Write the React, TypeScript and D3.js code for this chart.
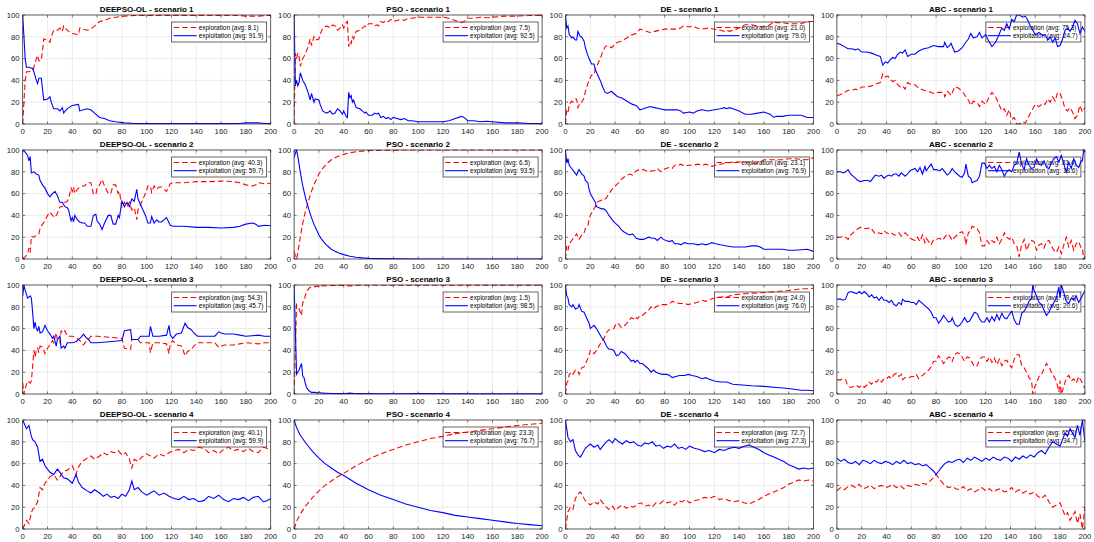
import React from "react";
import * as d3 from "d3";

// ---------- axis ticks ----------
const iterTicks = [0, 20, 40, 60, 80, 100, 120, 140, 160, 180, 200];
const pctTicks = [0, 20, 40, 60, 80, 100];

// ---------- titles / legend values ----------
const algorithms = ["DEEPSO-OL", "PSO", "DE", "ABC"];
const scenarios = ["scenario 1", "scenario 2", "scenario 3", "scenario 4"];
const exploreAvgs = [
  [8.1, 7.5, 21.0, 75.3],
  [40.3, 6.5, 23.1, 81.4],
  [54.3, 1.5, 24.0, 79.4],
  [40.1, 23.3, 72.7, 65.3],
];
const exploitAvgs = [
  [91.9, 92.5, 79.0, 24.7],
  [59.7, 93.5, 76.9, 18.6],
  [45.7, 98.5, 76.0, 20.6],
  [59.9, 76.7, 27.3, 34.7],
];

// ---------- row 1 ----------
const deepso1X = [0,1,2,3,5,8,9,11,12,13,15,17,20,22,23,25,28,30,32,33,35,37,40,45,46,49,52,55,58,62,66,70,75,82,90,100,120,140,160,175,180,185,190,195,200];
const deepso1Exploit = [100,80,60,52,52,51,48,40,37,42,42,22,23,25,20,14,14,12,15,10,13,15,17,18,12,13,14,13,10,6,5,3,2,1,0.5,0.3,0.3,0.3,0.3,0.5,1,1,1,0.5,0.5];
const deepso1Explore = [0,20,40,48,48,49,52,60,63,58,58,78,77,75,80,86,86,88,85,90,87,85,83,82,88,87,86,87,90,94,95,97,98,99,99.5,99.7,99.7,99.7,99.7,99.5,99,99,99,99.5,99.5];

const pso1X = [0,1,2,3,4,5,7,9,11,13,14,16,17,20,21,23,26,28,29,31,33,35,37,39,40,42,43,44,45,46,47,48,50,53,55,57,58,60,63,65,67,68,70,72,74,76,78,80,83,86,89,92,95,100,110,120,125,130,135,137,140,145,150,155,160,170,180,190,200];
const pso1Exploit = [100,35,40,35,38,47,40,36,30,22,28,20,23,22,18,12,10,11,12,9,10,14,12,9,12,7,6,29,24,26,20,22,15,14,12,10,11,8,8,10,9,10,6,7,5,6,4,6,5,4,5,3,3,2,2,2,3,5,7,6,3,3,2,2.5,2,1,1,0.5,0.3];
const pso1Explore = [0,65,60,65,62,53,60,64,70,78,72,80,77,78,82,88,90,89,88,91,90,86,88,91,88,93,94,71,76,74,80,78,85,86,88,90,89,92,92,90,91,90,94,93,95,94,96,94,95,96,95,97,97,98,98,98,97,95,93,94,97,97,98,97.5,98,99,99,99.5,99.7];

const de1X = [0,1,2,3,5,6,8,9,10,12,13,15,16,18,19,21,23,24,26,28,30,32,34,37,39,42,45,48,51,54,57,60,63,68,72,76,80,85,90,93,95,100,103,106,110,115,120,125,128,130,132,135,140,143,145,150,155,160,165,168,170,175,180,185,190,195,200];
const de1Exploit = [100,88,90,82,79,80,77,77,85,80,80,76,70,63,60,55,55,50,45,40,34,29,28,30,28,25,24,22,20,18,17,13,14,16,15,14,13,13,13,12,10,11,10,12,13,12,13,14,15,14,15,14,12,10,9,9,10,11,9,6,7,7,8,8,8,6,6];
const de1Explore = [0,12,10,18,21,20,23,23,15,20,20,24,30,37,40,45,45,50,55,60,66,71,72,70,72,75,76,78,80,82,83,87,86,84,85,86,87,87,87,88,90,89,90,88,87,88,87,86,85,86,85,86,88,90,91,91,90,89,91,94,93,93,92,92,92,94,94];

const abc1X = [0,3,6,9,12,15,17,20,24,28,32,35,37,39,41,43,45,47,49,51,53,55,57,60,63,66,70,74,78,82,86,87,89,91,92,95,98,101,104,106,108,110,113,115,117,120,122,125,128,130,133,135,137,139,141,143,145,147,150,152,154,156,158,160,163,166,168,170,172,174,176,178,180,182,184,186,188,190,192,194,196,198,200];
const abc1Exploit = [74,73,71,69,69,68,69,66,66,65,63,62,54,57,56,59,61,60,64,66,65,68,62,64,64,67,69,70,72,71,71,75,70,72,74,66,67,70,75,78,83,79,80,84,79,82,77,71,75,80,88,86,92,87,96,94,100,100,98,99,95,90,86,82,84,81,82,77,80,75,79,71,72,78,86,88,85,89,95,92,83,89,85];
const abc1Explore = [26,27,29,31,31,32,31,34,34,35,37,38,46,43,44,41,39,40,36,34,35,32,38,36,36,33,31,30,28,29,29,25,30,28,26,34,33,30,25,22,17,21,20,16,21,18,23,29,25,20,12,14,8,13,4,6,0,0,2,1,5,10,14,18,16,19,18,23,20,25,21,29,28,22,14,12,15,11,5,8,17,11,15];

// ---------- row 2 ----------
const deepso2X = [0,2,4,5,6,7,9,11,13,14,16,18,20,22,24,26,28,30,32,34,36,37,39,40,41,42,44,46,48,50,52,55,57,59,60,62,64,66,69,71,73,75,77,78,80,82,84,86,88,90,92,93,95,97,99,101,103,104,106,108,110,112,115,116,119,121,125,130,140,150,160,170,175,180,185,188,190,195,200];
const deepso2Exploit = [100,98,95,90,94,79,80,78,77,72,68,65,60,57,60,62,58,52,52,48,47,45,35,38,34,40,36,34,33,33,30,30,40,41,35,32,27,33,40,40,32,32,40,38,53,48,52,48,55,53,64,55,50,45,40,33,33,39,33,36,34,34,37,38,31,30,30,30,29,29,28.5,29,30,32,33,32,30,31,30.5];
const deepso2Explore = [0,2,5,10,6,21,20,22,23,28,32,35,40,43,40,38,42,48,48,52,53,55,65,62,66,60,64,66,67,67,70,70,60,59,65,68,73,67,60,60,68,68,60,62,47,52,48,52,45,47,36,45,50,55,60,67,67,61,67,64,66,66,63,62,69,70,70,70,71,71,71.5,71,70,68,67,68,70,69,69.5];

const pso2X = [0,1,2,3,4,5,6,7,8,9,10,11,12,14,16,18,20,22,24,26,28,30,33,36,40,45,50,55,60,70,80,100,130,160,200];
const pso2Exploit = [93,97,100,94,87,80,73,67,62,57,53,49,45,38,32,27,22,18.5,15.5,13,11,9,7,5.5,4,2.5,1.6,1,0.6,0.3,0.1,0,0,0,0];
const pso2Explore = [7,3,0,6,13,20,27,33,38,43,47,51,55,62,68,73,78,81.5,84.5,87,89,91,93,94.5,96,97.5,98.4,99,99.4,99.7,99.9,100,100,100,100];

const de2X = [0,1,2,3,5,7,9,10,11,13,15,16,18,19,20,22,24,25,27,29,31,33,35,37,39,41,43,45,47,50,52,54,55,57,60,63,67,70,72,74,77,79,81,84,86,88,91,93,96,99,103,107,110,113,116,118,121,125,130,135,140,145,150,154,157,160,165,170,175,180,185,190,195,200];
const de2Exploit = [100,88,92,86,83,80,77,80,82,78,76,72,70,64,60,56,52,48,47,46,46,44,40,37,34,32,30,27,25,23,22,23,22,19,18,18,20,19,19,17,20,18,17,16,17,14,14,13,15,14,14,13,14,13,14,15,14,13,12,11,11,11,12,12,11,9,9,9,9,8,8,8.5,9,7];
const de2Explore = [0,12,8,14,17,20,23,20,18,22,24,28,30,36,40,44,48,52,53,54,54,56,60,63,66,68,70,73,75,77,78,77,78,81,82,82,80,81,81,83,80,82,83,84,83,86,86,87,85,86,86,87,86,87,86,85,86,87,88,89,89,89,88,88,89,91,91,91,91,92,92,91.5,91,93];

const abc2X = [0,3,5,7,9,11,13,15,17,19,22,25,27,29,31,34,36,38,40,42,44,46,48,50,52,55,57,59,61,63,65,67,69,71,72,74,76,78,80,83,85,87,89,91,93,95,97,99,101,103,104,106,108,109,111,113,115,117,119,121,123,125,127,129,131,133,135,137,139,141,143,145,147,149,151,153,155,157,159,161,163,165,167,169,171,173,175,177,179,181,183,185,187,189,191,193,195,197,198,199,200];
const abc2Exploit = [80,80,79,80,82,78,76,74,72,71,72,72,71,74,77,76,77,74,76,77,76,78,78,76,79,76,78,81,82,83,80,84,78,85,81,84,87,82,82,81,83,80,77,79,83,80,78,76,75,79,87,76,74,70,71,72,76,88,88,83,86,83,85,80,86,82,76,80,82,80,86,88,98,87,82,92,86,83,84,92,87,86,90,84,83,88,92,94,89,95,87,80,89,83,92,86,84,90,90,100,98];
const abc2Explore = [20,20,21,20,18,22,24,26,28,29,28,28,29,26,23,24,23,26,24,23,24,22,22,24,21,24,22,19,18,17,20,16,22,15,19,16,13,18,18,19,17,20,23,21,17,20,22,24,25,21,13,24,26,30,29,28,24,12,12,17,14,17,15,20,14,18,24,20,18,20,14,12,2,13,18,8,14,17,16,8,13,14,10,16,17,12,8,6,11,5,13,20,11,17,8,14,16,10,10,0,2];

// ---------- row 3 ----------
const deepso3X = [0,1,2,4,6,7,8,9,10,11,12,13,14,16,18,20,22,24,25,27,28,30,31,33,34,36,40,43,47,49,51,53,55,60,70,80,82,87,88,93,95,102,103,105,110,116,118,119,121,124,128,131,133,136,138,141,150,155,158,160,163,170,175,180,185,190,195,200];
const deepso3Exploit = [90,100,95,88,90,88,75,60,66,60,58,62,56,57,63,58,55,51,53,44,50,53,42,44,42,47,47,48,52,55,52,50,47,47,48,49,58,59,50,50,53,53,62,53,53,54,63,54,51,55,56,65,61,59,56,53,53,53,57,56,55,55,54,53,53.5,54,53,53];
const deepso3Explore = [10,0,5,12,10,12,25,40,34,40,42,38,44,43,37,42,45,49,47,56,50,47,58,56,58,53,53,52,48,45,48,50,53,53,52,51,42,41,50,50,47,47,38,47,47,46,37,46,49,45,44,35,39,41,44,47,47,47,43,44,45,45,46,47,46.5,46,47,47];

const pso3X = [0,1,2,4,6,7,8,9,10,12,14,17,19,20,22,30,40,45,50,80,100,150,200];
const pso3Exploit = [100,60,18,22,28,16,15,10,6,3,1.5,1.5,0.8,2,0.8,0.5,0.3,0.8,0.3,0.2,0.3,0.1,0.1];
const pso3Explore = [0,40,82,78,72,84,85,90,94,97,98.5,98.5,99.2,98,99.2,99.5,99.7,99.2,99.7,99.8,99.7,99.9,99.9];

const de3X = [0,1,2,3,5,6,8,10,11,13,15,17,19,20,22,23,25,27,29,31,33,35,37,39,41,43,45,48,51,53,55,56,58,60,62,65,67,69,71,73,75,78,82,84,86,89,92,96,99,102,106,110,113,115,120,125,130,135,140,145,150,160,170,180,190,195,200];
const de3Exploit = [100,90,88,82,80,82,78,79,82,76,75,70,65,60,62,63,60,56,52,49,44,41,41,40,35,36,39,37,33,30,31,29,31,28,28,25,23,20,22,20,19,18,18,17,15,16,17,17,18,17,16,14,15,14,12,11,11,9,8.5,8,7.5,7,6,5,3.5,3.5,3];
const de3Explore = [0,10,12,18,20,18,22,21,18,24,25,30,35,40,38,37,40,44,48,51,56,59,59,60,65,64,61,63,67,70,69,71,69,72,72,75,77,80,78,80,81,82,82,83,85,84,83,83,82,83,84,86,85,86,88,89,89,91,91.5,92,92.5,93,94,95,96.5,96.5,97];

const abc3X = [0,3,5,7,9,11,14,16,18,20,22,24,26,28,30,32,34,36,38,40,42,44,46,48,50,52,53,55,58,60,62,64,66,68,70,72,74,76,78,80,82,84,86,88,90,92,93,95,97,99,101,103,105,107,109,111,113,115,117,119,121,123,125,127,129,131,133,135,137,139,141,143,145,147,149,151,153,155,157,158,159,161,163,165,167,169,171,173,175,177,179,180,181,183,185,187,189,191,193,195,197,200];
const abc3Exploit = [87,87,86,87,93,94,93,92,94,92,94,92,89,91,88,89,86,89,86,86,84,86,82,81,84,82,87,85,85,84,84,82,86,84,82,80,78,75,70,70,65,68,72,69,66,67,70,64,62,63,66,70,66,67,71,75,74,69,66,66,70,66,71,67,73,68,74,70,69,73,76,68,64,64,74,76,80,85,88,100,95,90,84,82,77,72,75,80,84,88,98,88,100,93,85,83,88,86,90,84,88,95];
const abc3Explore = [13,13,14,13,7,6,7,8,6,8,6,8,11,9,12,11,14,11,14,14,16,14,18,19,16,18,13,15,15,16,16,18,14,16,18,20,22,25,30,30,35,32,28,31,34,33,30,36,38,37,34,30,34,33,29,25,26,31,34,34,30,34,29,33,27,32,26,30,31,27,24,32,36,36,26,24,20,15,12,0,5,10,16,18,23,28,25,20,16,12,2,12,0,7,15,17,12,14,10,16,12,5];

// ---------- row 4 ----------
const deepso4X = [0,3,5,7,8,10,12,14,16,18,20,22,25,28,30,33,36,40,43,45,48,52,55,58,62,65,68,71,74,77,80,83,86,88,90,93,96,100,103,106,110,114,118,122,126,130,134,138,142,146,150,154,158,162,166,170,174,178,182,186,190,194,197,200];
const deepso4Exploit = [100,92,95,85,82,80,75,62,64,58,55,52,50,55,52,47,46,42,50,43,38,35,33,36,33,30,32,29,30,28,32,30,36,44,36,38,34,31,33,35,31,33,30,28,27,30,27,28,25,26,30,28,31,27,25,28,27,29,26,29,30,25,26,28];
const deepso4Explore = [0,8,5,15,18,20,25,38,36,42,45,48,50,45,48,53,54,58,50,57,62,65,67,64,67,70,68,71,70,72,68,70,64,56,64,62,66,69,67,65,69,67,70,72,73,70,73,72,75,74,70,72,69,73,75,72,73,71,74,71,70,75,74,72];

const pso4X = [0,2,5,10,15,20,25,30,35,40,50,60,70,80,90,100,110,120,130,140,150,160,170,180,190,200];
const pso4Exploit = [100,93,86,78,71,65,60,56,52,49,42,36,31,27,23,20,17,15,12.5,11,9.5,8,6.5,5,4,3];
const pso4Explore = [0,7,14,22,29,35,40,44,48,51,58,64,69,73,77,80,83,85,87.5,89,90.5,92,93.5,95,96,97];

const de4X = [0,2,4,6,8,10,12,14,16,18,20,23,26,28,30,33,35,38,40,43,46,49,52,55,58,61,64,67,70,73,76,79,82,85,88,91,94,97,100,104,108,112,116,120,124,128,132,136,140,144,148,152,156,160,164,168,172,176,180,184,188,192,196,200];
const de4Exploit = [100,84,80,82,72,68,66,70,74,76,78,75,77,73,76,80,82,79,83,80,78,81,79,80,77,76,79,78,80,76,77,74,76,75,78,74,75,73,76,74,73,71,72,70,73,72,74,75,74,76,77,75,73,70,68,66,64,62,59,57,55,56,55,56];
const de4Explore = [0,16,20,18,28,32,34,30,26,24,22,25,23,27,24,20,18,21,17,20,22,19,21,20,23,24,21,22,20,24,23,26,24,25,22,26,25,27,24,26,27,29,28,30,27,28,26,25,26,24,23,25,27,30,32,34,36,38,41,43,45,44,45,44];

const abc4X = [0,3,6,9,12,15,18,21,24,27,30,33,36,39,42,45,48,51,54,57,60,63,66,69,72,75,78,80,82,84,87,90,93,96,99,102,105,108,111,114,117,120,123,126,129,132,135,138,141,144,147,150,153,156,159,162,165,168,171,174,177,180,182,184,186,188,190,192,194,196,198,200];
const abc4Exploit = [65,62,64,61,60,62,59,63,62,60,63,61,60,62,61,59,62,60,63,60,61,59,60,58,59,56,53,50,53,56,60,62,61,63,64,61,65,63,66,64,62,65,63,66,64,63,66,65,62,66,64,67,65,68,66,70,72,69,75,80,78,76,82,88,85,92,88,84,95,86,100,80];
const abc4Explore = [35,38,36,39,40,38,41,37,38,40,37,39,40,38,39,41,38,40,37,40,39,41,40,42,41,44,47,50,47,44,40,38,39,37,36,39,35,37,34,36,38,35,37,34,36,37,34,35,38,34,36,33,35,32,34,30,28,31,25,20,22,24,18,12,15,8,12,16,5,14,0,20];

const grid = [
  [[deepso1X, deepso1Exploit, deepso1Explore], [pso1X, pso1Exploit, pso1Explore], [de1X, de1Exploit, de1Explore], [abc1X, abc1Exploit, abc1Explore]],
  [[deepso2X, deepso2Exploit, deepso2Explore], [pso2X, pso2Exploit, pso2Explore], [de2X, de2Exploit, de2Explore], [abc2X, abc2Exploit, abc2Explore]],
  [[deepso3X, deepso3Exploit, deepso3Explore], [pso3X, pso3Exploit, pso3Explore], [de3X, de3Exploit, de3Explore], [abc3X, abc3Exploit, abc3Explore]],
  [[deepso4X, deepso4Exploit, deepso4Explore], [pso4X, pso4Exploit, pso4Explore], [de4X, de4Exploit, de4Explore], [abc4X, abc4Exploit, abc4Explore]],
];

// ---------- layout ----------
const W = 1094;
const H = 542;
const PLOT_W = 248;
const PLOT_H = 109;
const LEFT0 = 22.7;
const COL_STEP = 271.4;
const TOP0 = 15;
const ROW_STEP = 135;
const AXIS = "#262626";
const FONT = "'Liberation Sans', Arial, Helvetica, sans-serif";

type PanelProps = {
  id: string;
  left: number;
  top: number;
  title: string;
  xs: number[];
  exploit: number[];
  explore: number[];
  exploreAvg: number;
  exploitAvg: number;
};

function Panel({ id, left, top, title, xs, exploit, explore, exploreAvg, exploitAvg }: PanelProps) {
  const x = d3.scaleLinear().domain([0, 200]).range([left, left + PLOT_W]);
  const y = d3.scaleLinear().domain([0, 100]).range([top + PLOT_H, top]);
  const line = d3
    .line<number>()
    .x((_, i) => x(xs[i]))
    .y((d) => y(d));
  const tickLen = 2.5;
  const legW = 95;
  const legH = 20;
  const legX = left + PLOT_W - 4 - legW;
  const legY = top + 7;
  const bottom = top + PLOT_H;
  const right = left + PLOT_W;
  return (
    <g>
      <defs>
        <clipPath id={id}>
          <rect x={left} y={top - 0.5} width={PLOT_W} height={PLOT_H + 1} />
        </clipPath>
      </defs>
      <rect x={left} y={top} width={PLOT_W} height={PLOT_H} fill="#fff" />
      {iterTicks.map((t) => (
        <line key={"gx" + t} x1={x(t)} x2={x(t)} y1={top} y2={bottom} stroke="#dfdfdf" strokeWidth={0.6} />
      ))}
      {pctTicks.map((t) => (
        <line key={"gy" + t} x1={left} x2={right} y1={y(t)} y2={y(t)} stroke="#dfdfdf" strokeWidth={0.6} />
      ))}
      {/* legend (drawn under the data lines) */}
      <rect x={legX} y={legY} width={legW} height={legH} fill="#fff" stroke={AXIS} strokeWidth={0.7} />
      <line x1={legX + 2} x2={legX + 25} y1={legY + 5.5} y2={legY + 5.5} stroke="#ff0000" strokeWidth={1.1} strokeDasharray="5.5,3" />
      <line x1={legX + 2} x2={legX + 25} y1={legY + 13.7} y2={legY + 13.7} stroke="#0000ff" strokeWidth={1.1} />
      <text x={legX + 27} y={legY + 5.5} dy="0.35em" fontSize={6.4} fill="#000" fontFamily={FONT}>
        {`exploration (avg: ${exploreAvg.toFixed(1)})`}
      </text>
      <text x={legX + 27} y={legY + 13.7} dy="0.35em" fontSize={6.4} fill="#000" fontFamily={FONT}>
        {`exploitation (avg: ${exploitAvg.toFixed(1)})`}
      </text>
      <g clipPath={`url(#${id})`}>
        <path d={line(explore) || ""} fill="none" stroke="#ff0000" strokeWidth={1.1} strokeDasharray="5.5,3" />
        <path d={line(exploit) || ""} fill="none" stroke="#0000ff" strokeWidth={1.1} />
      </g>
      <rect x={left} y={top} width={PLOT_W} height={PLOT_H} fill="none" stroke={AXIS} strokeWidth={0.7} />
      {iterTicks.map((t) => (
        <g key={"tx" + t}>
          <line x1={x(t)} x2={x(t)} y1={bottom} y2={bottom - tickLen} stroke={AXIS} strokeWidth={0.6} />
          <line x1={x(t)} x2={x(t)} y1={top} y2={top + tickLen} stroke={AXIS} strokeWidth={0.6} />
          <text x={x(t)} y={bottom + 10} textAnchor="middle" fontSize={7.8} fill={AXIS} fontFamily={FONT}>
            {t}
          </text>
        </g>
      ))}
      {pctTicks.map((t) => (
        <g key={"ty" + t}>
          <line x1={left} x2={left + tickLen} y1={y(t)} y2={y(t)} stroke={AXIS} strokeWidth={0.6} />
          <line x1={right} x2={right - tickLen} y1={y(t)} y2={y(t)} stroke={AXIS} strokeWidth={0.6} />
          <text x={left - 3} y={y(t)} dy="0.35em" textAnchor="end" fontSize={7.8} fill={AXIS} fontFamily={FONT}>
            {t}
          </text>
        </g>
      ))}
      <text x={left + PLOT_W / 2} y={top - 3} textAnchor="middle" fontSize={8} fontWeight="bold" fill="#000" fontFamily={FONT}>
        {title}
      </text>
    </g>
  );
}

export default function App() {
  return (
    <svg
      width={W}
      height={H}
      viewBox={`0 0 ${W} ${H}`}
      style={{ position: "absolute", left: 0, top: 0, background: "#fff" }}
    >
      <rect x={0} y={0} width={W} height={H} fill="#fff" />
      {grid.map((row, r) =>
        row.map((cell, c) => (
          <Panel
            key={`${r}-${c}`}
            id={`clip-${r}-${c}`}
            left={LEFT0 + c * COL_STEP}
            top={TOP0 + r * ROW_STEP}
            title={`${algorithms[c]} - ${scenarios[r]}`}
            xs={cell[0]}
            exploit={cell[1]}
            explore={cell[2]}
            exploreAvg={exploreAvgs[r][c]}
            exploitAvg={exploitAvgs[r][c]}
          />
        ))
      )}
    </svg>
  );
}
